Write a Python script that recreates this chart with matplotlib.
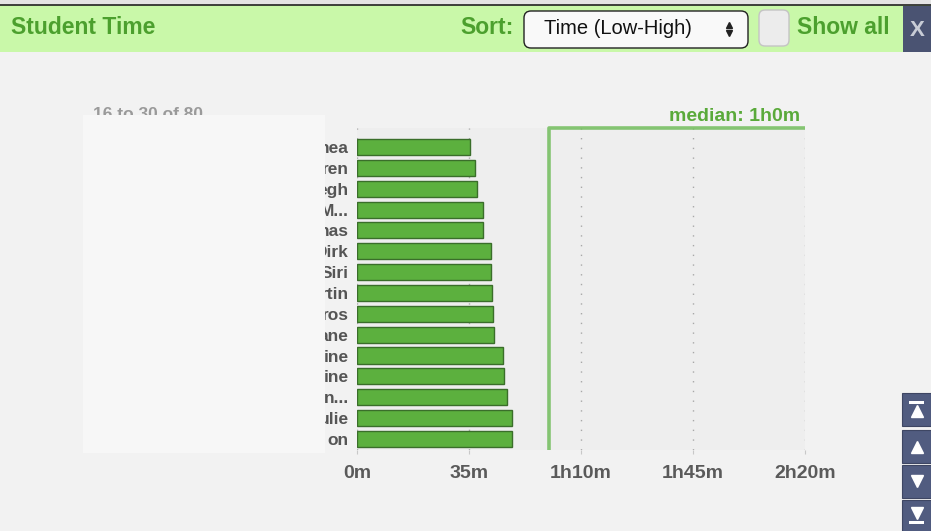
import matplotlib.pyplot as plt
import matplotlib.transforms as mtransforms
from matplotlib.patches import Rectangle, FancyBboxPatch
import numpy as np

# 数据
names = ['nea', 'ren', 'egh', 'M...', 'nas', 'Dirk', 'Siri', 'rtin', 'ros',
         'ane', 'ine', 'ine', 'n...', 'ulie', 'on']
minutes = [35.3, 36.8, 37.5, 39.3, 39.3, 41.8, 41.8, 42.2, 42.4, 42.9,
           45.7, 46.0, 46.9, 48.4, 48.4]
median_min = 60
tick_values = [0, 35, 70, 105, 140]
tick_labels = ['0m', '35m', '1h10m', '1h45m', '2h20m']
page_text = '16 to 30 of 80'

plt.rcParams['font.family'] = ['Liberation Sans', 'DejaVu Sans']

W, H = 931, 531
fig = plt.figure(figsize=(W / 100, H / 100), dpi=100, facecolor='#f2f2f2')

# 主图区域（像素换算）
left, right, top, bottom = 357, 805, 128, 450
ax = fig.add_axes([left / W, 1 - bottom / H, (right - left) / W, (bottom - top) / H])
ax.set_facecolor('#eeeeee')

y = np.arange(len(names))
ax.barh(y, minutes, height=0.77, color='#5cb03e', edgecolor='#3a6e2a',
        linewidth=1, zorder=3)
ax.set_xlim(0, 140)
ax.set_ylim(14.53, -0.91)

ax.set_yticks(y)
ax.set_yticklabels(names, fontsize=12.5, fontweight='bold', color='#555555')
ax.set_xticks(tick_values)
ax.set_xticklabels(tick_labels, fontsize=14, fontweight='bold', color='#5a5a5a')
ax.tick_params(axis='y', length=0, pad=6)
ax.tick_params(axis='x', length=3, color='#c8c8c8', pad=8)
for s in ax.spines.values():
    s.set_visible(False)

# 虚线网格
ax.grid(axis='x', color='#a8a8a8', linestyle=(0, (1, 6)), linewidth=1, zorder=1)
ax.set_axisbelow(True)

# 中位数线
y0, y1 = ax.get_ylim()
ax.plot([median_min, median_min, 140], [y0, y1, y1], color='#72bd5c', alpha=0.85,
        linewidth=2.6, clip_on=False, zorder=4, solid_capstyle='butt')
trans = mtransforms.blended_transform_factory(ax.transData, ax.transAxes)
ax.text(138.5, 1.022, 'median: 1h0m', transform=trans, ha='right', va='baseline',
        fontsize=14, fontweight='bold', color='#5aaa3a')

# 覆盖层（像素坐标）
ov = fig.add_axes([0, 0, 1, 1], facecolor='none')
ov.set_xlim(0, W)
ov.set_ylim(H, 0)
ov.axis('off')

# 分页文字与遮挡的白框
ov.text(93, 119, page_text, fontsize=12.5, fontweight='bold', color='#9a9a9a',
        va='baseline', ha='left', zorder=1)
ov.add_patch(Rectangle((83, 115), 242, 338, facecolor='#f7f7f7', edgecolor='none', zorder=2))

# 顶部标题栏
ov.add_patch(Rectangle((0, 0), W, 5, facecolor='#e4e4e4', edgecolor='none'))
ov.add_patch(Rectangle((0, 5), W, 47, facecolor='#c9f8a9', edgecolor='none'))
ov.plot([0, W], [5, 5], color='#222222', linewidth=1.2)
ov.text(11, 28, 'Student Time', fontsize=16.5, fontweight='bold', color='#4ca02e',
        va='center', ha='left')
ov.text(514, 28, 'Sort:', fontsize=16.5, fontweight='bold', color='#4ca02e',
        va='center', ha='right')

# 下拉框
ov.add_patch(FancyBboxPatch((527, 14), 218, 31, boxstyle='round,pad=3,rounding_size=7',
                            facecolor='#f9f9f9', edgecolor='#222222', linewidth=1))
ov.text(544, 29, 'Time (Low-High)', fontsize=14.5, color='#111111', va='center', ha='left')
ov.plot([729], [25], marker='^', markersize=4.5, color='#222222')
ov.plot([729], [33], marker='v', markersize=4.5, color='#222222')

# 复选框
ov.add_patch(FancyBboxPatch((760, 11), 28, 34, boxstyle='round,pad=1,rounding_size=6',
                            facecolor='#ececec', edgecolor='#c4c4c4', linewidth=1))
ov.text(890, 28, 'Show all', fontsize=16.5, fontweight='bold', color='#4ca02e',
        va='center', ha='right')

# 关闭按钮
ov.add_patch(Rectangle((903, 6), 28, 46, facecolor='#4a5372', edgecolor='none'))
ov.text(917, 30, 'X', fontsize=16, fontweight='bold', color='#c8ccd6', va='center', ha='center')

# 右侧翻页按钮
btn_color = '#515c80'
for yb in [393, 430, 465, 500]:
    ov.add_patch(Rectangle((902, yb), 29, 33, facecolor=btn_color, edgecolor='#3e4663',
                           linewidth=0.8))
ov.add_patch(Rectangle((909, 401), 15, 2.5, facecolor='white', edgecolor='none'))
ov.plot([916.5], [411], marker='^', markersize=9, color='white')
ov.plot([916.5], [447], marker='^', markersize=9, color='white')
ov.plot([916.5], [481], marker='v', markersize=9, color='white')
ov.plot([916.5], [513], marker='v', markersize=9, color='white')
ov.add_patch(Rectangle((909, 521), 15, 2.5, facecolor='white', edgecolor='none'))

plt.savefig('out.png', dpi=100, facecolor=fig.get_facecolor())
